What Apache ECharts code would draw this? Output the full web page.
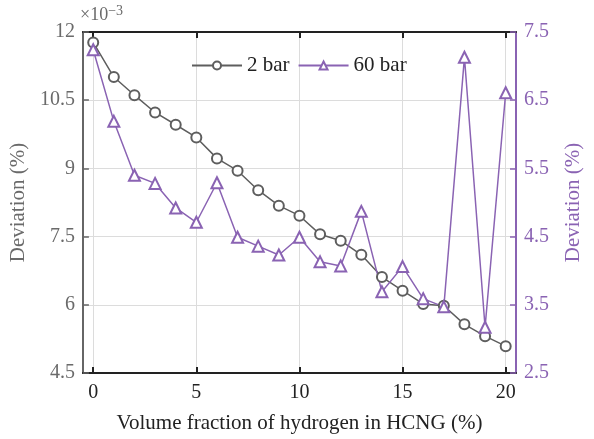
<!DOCTYPE html>
<html>
<head>
<meta charset="utf-8">
<script src="https://cdn.jsdelivr.net/npm/echarts@6/dist/echarts.min.js"></script>
<style>
  html, body { margin: 0; padding: 0; background: #fff; }
  #chart { width: 594px; height: 439px; }
</style>
</head>
<body>
<div id="chart"></div>
<script>
// x: volume fraction of hydrogen (%)
const xValues = [0, 1, 2, 3, 4, 5, 6, 7, 8, 9, 10, 11, 12, 13, 14, 15, 16, 17, 18, 19, 20];
// deviation, left axis (x1e-3 %)
const bar2 = [11.77, 11.01, 10.61, 10.23, 9.96, 9.68, 9.22, 8.95, 8.52, 8.18, 7.96,
              7.55, 7.41, 7.10, 6.61, 6.31, 6.02, 5.98, 5.57, 5.31, 5.09];
// deviation, right axis (x1e-3 %)
const bar60 = [7.24, 6.19, 5.40, 5.28, 4.92, 4.71, 5.29, 4.49, 4.36, 4.23, 4.49,
               4.13, 4.07, 4.87, 3.69, 4.06, 3.59, 3.47, 7.13, 3.17, 6.61];
const xTicks = [0, 5, 10, 15, 20];

const font = "Liberation Serif";
const gray = "#5e5e5e";
const purple = "#8a63b3";
const grid = "#dcdcdc";

const chart = echarts.init(document.getElementById("chart"));

const xAxisBase = {
    type: "value",
    min: -0.5,
    max: 20.5,
    axisLine: { show: true, onZero: false, lineStyle: { color: "#222", width: 2 } },
    axisTick: { show: true, inside: true, length: 6, customValues: xTicks, lineStyle: { color: "#222", width: 2 } },
};

chart.setOption({
    animation: false,
    textStyle: { fontFamily: font },
    grid: { left: 79, right: 78, top: 32, bottom: 63 },
    legend: {
        left: 186,
        top: 50,
        itemWidth: 50,
        itemHeight: 10,
        itemGap: 8,
        textStyle: { fontFamily: font, fontSize: 21, color: "#222" },
        data: ["2 bar", "60 bar"],
    },
    graphic: [{
        type: "text",
        left: 80,
        top: 4,
        style: {
            text: "×10{sup|−3}",
            font: "18px Liberation Serif",
            fill: "#6a6a6a",
            rich: { sup: { fontSize: 14, fontFamily: font, fill: "#6a6a6a", verticalAlign: "top", padding: [0, 0, 8, 0] } },
        },
    }],
    xAxis: [
        Object.assign({}, xAxisBase, {
            position: "bottom",
            name: "Volume fraction of hydrogen in HCNG (%)",
            nameLocation: "middle",
            nameGap: 40,
            nameTextStyle: { fontFamily: font, fontSize: 21, color: "#222" },
            axisLabel: { customValues: xTicks, margin: 10, fontFamily: font, fontSize: 20, color: "#222" },
            splitLine: { show: true, lineStyle: { color: grid, width: 1 } },
        }),
        Object.assign({}, xAxisBase, {
            position: "top",
            axisLabel: { show: false },
            splitLine: { show: false },
        }),
    ],
    yAxis: [
        {
            type: "value",
            position: "left",
            min: 4.5,
            max: 12,
            interval: 1.5,
            name: "Deviation (%)",
            nameLocation: "middle",
            nameGap: 44,
            nameTextStyle: { fontFamily: font, fontSize: 21, color: "#6a6a6a" },
            axisLine: { show: true, onZero: false, lineStyle: { color: "#666", width: 2 } },
            axisTick: { show: true, inside: true, length: 6, lineStyle: { color: "#666", width: 1.5 } },
            axisLabel: { margin: 8, fontFamily: font, fontSize: 20, color: "#6a6a6a" },
            splitLine: { show: true, lineStyle: { color: grid, width: 1 } },
        },
        {
            type: "value",
            position: "right",
            min: 2.5,
            max: 7.5,
            interval: 1,
            name: "Deviation (%)",
            nameLocation: "middle",
            nameGap: 47,
            nameRotate: 90,
            nameTextStyle: { fontFamily: font, fontSize: 21, color: purple },
            axisLine: { show: true, onZero: false, lineStyle: { color: purple, width: 2 } },
            axisTick: { show: true, inside: true, length: 6, lineStyle: { color: purple, width: 1.5 } },
            axisLabel: { margin: 8, fontFamily: font, fontSize: 20, color: purple },
            splitLine: { show: false },
        },
    ],
    series: [
        {
            name: "2 bar",
            type: "line",
            xAxisIndex: 0,
            yAxisIndex: 0,
            data: xValues.map((x, i) => [x, bar2[i]]),
            symbol: "emptyCircle",
            symbolSize: 10,
            lineStyle: { color: gray, width: 1.5 },
            itemStyle: { color: gray, borderColor: gray, borderWidth: 1.5 },
        },
        {
            name: "60 bar",
            type: "line",
            xAxisIndex: 0,
            yAxisIndex: 1,
            data: xValues.map((x, i) => [x, bar60[i]]),
            symbol: "emptyTriangle",
            symbolSize: 11,
            lineStyle: { color: purple, width: 1.5 },
            itemStyle: { color: purple, borderColor: purple, borderWidth: 1.5 },
        },
    ],
});
</script>
</body>
</html>
